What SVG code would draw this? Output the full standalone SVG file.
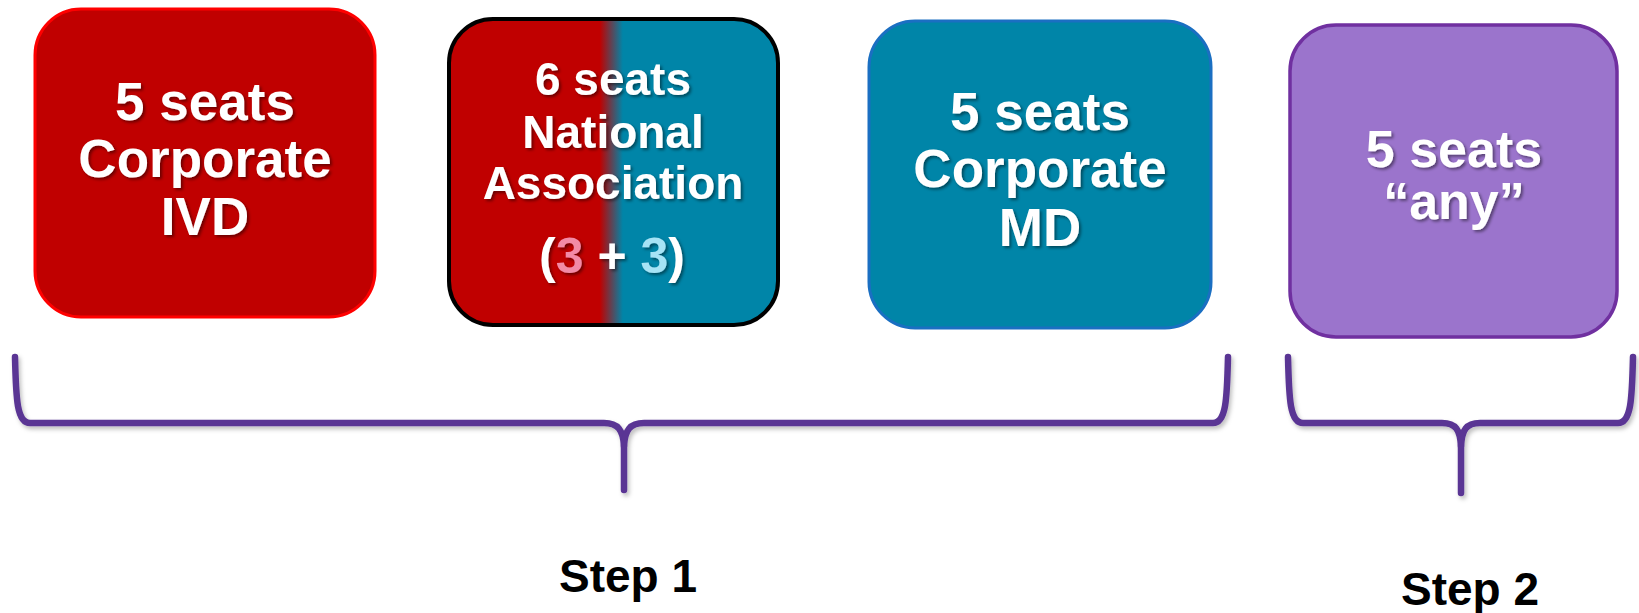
<svg xmlns="http://www.w3.org/2000/svg" width="1639" height="613" viewBox="0 0 1639 613">
<defs>
  <linearGradient id="gradNA" x1="448" y1="0" x2="778" y2="0" gradientUnits="userSpaceOnUse">
    <stop offset="0" stop-color="#c00000"/>
    <stop offset="0.46" stop-color="#c00000"/>
    <stop offset="0.53" stop-color="#0085a8"/>
    <stop offset="1" stop-color="#0085a8"/>
  </linearGradient>
  <filter id="tshadow" x="-10%" y="-20%" width="130%" height="150%">
    <feDropShadow dx="2" dy="2" stdDeviation="1.5" flood-color="#000" flood-opacity="0.45"/>
  </filter>
  <filter id="bshadow" x="-5%" y="-20%" width="110%" height="150%">
    <feDropShadow dx="2" dy="3" stdDeviation="2" flood-color="#000" flood-opacity="0.25"/>
  </filter>
</defs>
<style>
  .lbl { font-family: "Liberation Sans", Arial, sans-serif; font-weight: bold; fill: #ffffff; text-anchor: middle; }
  .step { font-family: "Liberation Sans", Arial, sans-serif; font-weight: bold; fill: #000000; text-anchor: middle; font-size: 46px; }
  .brace { fill: none; stroke: #5a3594; stroke-width: 6.5; stroke-linecap: round; stroke-linejoin: round; }
</style>
<rect width="1639" height="613" fill="#ffffff"/>

<g id="ivd">
  <rect x="35" y="9" width="340" height="308" rx="46" ry="46" fill="#c00000" stroke="#ff0000" stroke-width="3"/>
  <g class="lbl" font-size="53" filter="url(#tshadow)">
    <text x="205" y="120">5 seats</text>
    <text x="205" y="177">Corporate</text>
    <text x="205" y="235">IVD</text>
  </g>
</g>

<g id="national">
  <rect x="449" y="19" width="329" height="306" rx="44" ry="44" fill="url(#gradNA)" stroke="#000000" stroke-width="4"/>
  <g class="lbl" font-size="46" filter="url(#tshadow)">
    <text x="613" y="95">6 seats</text>
    <text x="613" y="148">National</text>
    <text x="613" y="199">Association</text>
    <text x="612" y="273" font-size="50">(<tspan fill="#f28aa6">3</tspan> + <tspan fill="#a6e3f5">3</tspan>)</text>
  </g>
</g>

<g id="md">
  <rect x="869" y="21" width="342" height="307" rx="46" ry="46" fill="#0085a8" stroke="#1a6fc2" stroke-width="3"/>
  <g class="lbl" font-size="53" filter="url(#tshadow)">
    <text x="1040" y="130">5 seats</text>
    <text x="1040" y="187">Corporate</text>
    <text x="1040" y="246">MD</text>
  </g>
</g>

<g id="any">
  <rect x="1290" y="25" width="327" height="312" rx="46" ry="46" fill="#9b74cc" stroke="#7030a0" stroke-width="3.5"/>
  <g class="lbl" font-size="52" filter="url(#tshadow)">
    <text x="1454" y="167">5 seats</text>
    <text x="1454" y="219">“any”</text>
  </g>
</g>

<g id="connectors" filter="url(#bshadow)">
  <path class="brace" d="M 15 357 C 16 400, 17 423, 30 423 L 604 423 C 618 423, 623 430, 624 446 L 624 490"/>
  <path class="brace" d="M 1228 357 C 1227 400, 1226 423, 1213 423 L 644 423 C 630 423, 625 430, 624 446"/>
  <path class="brace" d="M 1288 357 C 1289 400, 1290 423, 1303 423 L 1442 423 C 1456 423, 1460 430, 1461 446 L 1461 493"/>
  <path class="brace" d="M 1633 357 C 1632 400, 1631 423, 1618 423 L 1480 423 C 1466 423, 1462 430, 1461 446"/>
</g>

<g id="step1">
  <text class="step" x="628" y="592">Step 1</text>
</g>
<g id="step2">
  <text class="step" x="1470" y="605">Step 2</text>
</g>
</svg>
